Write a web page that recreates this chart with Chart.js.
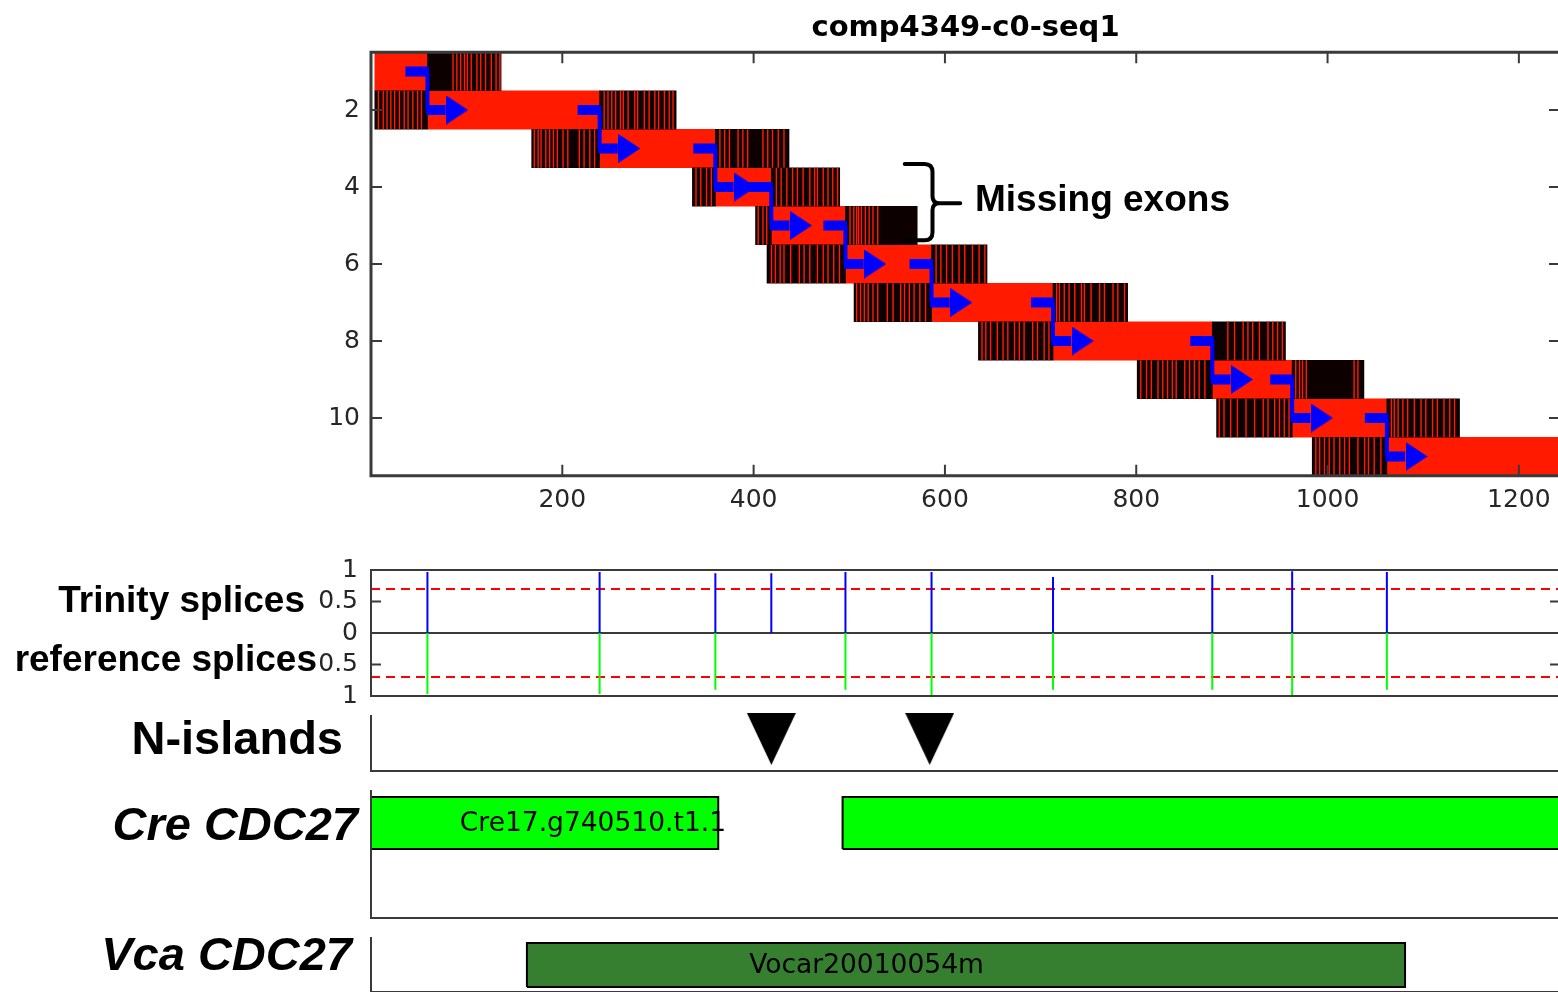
<!DOCTYPE html>
<html>
<head>
<meta charset="utf-8">
<title>comp4349-c0-seq1</title>
<script src="https://cdn.jsdelivr.net/npm/chart.js@4.4.1/dist/chart.umd.min.js"></script>
<style>
  html, body { margin: 0; padding: 0; background: #fff; }
  body { position: relative; width: 1558px; height: 992px; overflow: hidden; }
  canvas { position: absolute; left: 0; }
  .lbl { position: absolute; left: 0; font-family: "Liberation Sans", Arial, sans-serif; font-weight: bold;
         line-height: 1; white-space: nowrap; text-align: right; color: #000; }
</style>
</head>
<body>
<canvas id="exonChart" width="1560" height="530" style="top:0px"></canvas>
<canvas id="spliceChart" width="1560" height="186" style="top:540px"></canvas>
<canvas id="islandChart" width="1560" height="80" style="top:700px"></canvas>
<canvas id="creChart" width="1560" height="145" style="top:780px"></canvas>
<canvas id="vcaChart" width="1560" height="62" style="top:930px"></canvas>

<div class="lbl" style="width:305px;top:580.7px;font-size:37px">Trinity splices</div>
<div class="lbl" style="width:317px;top:639.7px;font-size:37px">reference splices</div>
<div class="lbl" style="width:343px;top:714.2px;font-size:47px">N-islands</div>
<div class="lbl" style="width:358px;top:800.2px;font-size:47px;font-style:italic">Cre CDC27</div>
<div class="lbl" style="width:352px;top:930.2px;font-size:47px;font-style:italic">Vca CDC27</div>
<div class="lbl" style="left:975px;top:180.4px;font-size:37px;text-align:left">Missing exons</div>

<script>
// --- data (x = position along the transcript) ---
const X_MAX = 1243;
const xTicks = [200, 400, 600, 800, 1000, 1200];
const rowTicks = [2, 4, 6, 8, 10];
const rows = [1, 2, 3, 4, 5, 6, 7, 8, 9, 10, 11];

// red = matched part of each exon, black = flanking genomic sequence
const exonStart = [4, 59, 239, 360, 418.5, 496, 586, 713, 879.5, 963, 1062];
const exonEnd = [59, 239, 360, 418.5, 496, 586, 713, 879.5, 963, 1062, 1250];
const flankStart = [null, 4, 168, 336, 402, 414, 505, 635, 801, 884, 984];
const flankEnd = [136, 319, 437, 490, 571, 644, 791, 956, 1038, 1138, null];

// thin red mismatch stripes inside the black flanks, per row
const mismatches = [
  [85, 89, 93, 97, 100, 104, 110, 114, 119, 125, 130, 134],
  [7, 12, 16, 20, 24, 29, 34, 38, 43, 48, 52, 243, 247, 251, 255, 260, 263, 268, 275, 278, 285, 290, 296, 300, 306, 311, 315],
  [170, 174, 177, 182, 186, 190, 194, 200, 205, 217, 222, 228, 233, 364, 369, 374, 383, 388, 393, 409, 414, 419, 425, 431],
  [339, 344, 350, 355, 423, 428, 434, 440, 445, 451, 458, 463, 466, 472, 477, 482, 487],
  [404, 409, 413, 500, 504, 507, 509, 512, 516, 520, 524, 529],
  [418, 422, 427, 431, 438, 447, 452, 458, 466, 472, 477, 483, 489, 590, 595, 601, 607, 614, 620, 628, 635, 641],
  [507, 511, 515, 519, 524, 529, 539, 545, 553, 557, 562, 567, 573, 579, 716, 719, 724, 729, 735, 742, 745, 752, 761, 766, 775, 780, 787],
  [638, 642, 647, 654, 660, 665, 672, 677, 682, 691, 696, 703, 708, 895, 902, 911, 916, 921, 928, 937, 942, 947, 952],
  [804, 810, 815, 822, 827, 832, 837, 841, 850, 855, 860, 865, 871, 966, 970, 973, 977, 1027, 1031],
  [886, 891, 898, 905, 914, 923, 932, 937, 944, 949, 954, 959, 1066, 1069, 1073, 1078, 1083, 1090, 1097, 1102, 1109, 1114, 1121, 1127, 1132],
  [987, 991, 996, 1001, 1006, 1012, 1017, 1022, 1031, 1038, 1042, 1048, 1055]
];

const trinitySplices = [59, 239, 360, 418.5, 496, 586, 713, 879.5, 963, 1062];
const trinityScore = [0.97, 0.97, 0.95, 0.95, 0.97, 0.97, 0.89, 0.92, 0.98, 0.97];
const refSplices = [59, 239, 360, 496, 586, 713, 879.5, 963, 1062];
const refScore = [0.97, 0.97, 0.9, 0.9, 1.0, 0.9, 0.9, 1.0, 0.9];
const spliceCutoff = 0.7;
const spliceTicks = [-1, -0.5, 0, 0.5, 1];

const nIslands = [418.5, 584];

const creStart = [0, 493];
const creEnd = [363, 1300];
const creName = 'Cre17.g740510.t1.1';
const creNameAt = 232;
const vcaStart = [163];
const vcaEnd = [1081];
const vcaName = 'Vocar20010054m';
const vcaNameAt = 518;

// brace next to the two missing exons (x, row)
const braceX = [558, 587, 616];
const braceRow = [3.4, 4.42, 5.38];

// --- styling ---
const RED = '#ff1a00', BLACK = '#0c0000', BLUE = '#0000ff', GREEN = '#00ff00', DARKGREEN = '#367f31';
const AXIS = '#3a3a3a', TEXT = '#262626';
const TICK_FONT = { family: 'DejaVu Sans', size: 25 };

Chart.defaults.font.family = 'DejaVu Sans';
Chart.defaults.animation = false;
Chart.defaults.events = [];
Chart.defaults.plugins.legend.display = false;
Chart.defaults.plugins.tooltip.enabled = false;

function triangle(w, h, dir, color) {
  const c = document.createElement('canvas');
  c.width = w; c.height = h;
  const g = c.getContext('2d');
  g.fillStyle = color;
  g.beginPath();
  if (dir === 'right') { g.moveTo(0, 0); g.lineTo(w, h / 2); g.lineTo(0, h); }
  else { g.moveTo(0, 0); g.lineTo(w, 0); g.lineTo(w / 2, h); }
  g.closePath(); g.fill();
  return c;
}

// axes box with inward tick marks (matlab look) plus optional extra drawing
function makeFrame(o, extra) {
  return {
    id: 'frame',
    afterDatasetsDraw(chart) {
      const { ctx, chartArea: a } = chart;
      const sx = chart.scales.x, sy = chart.scales.y;
      ctx.save();
      ctx.strokeStyle = AXIS;
      ctx.lineWidth = o.width;
      ctx.lineCap = 'square';
      ctx.beginPath();
      if (o.sides.includes('top')) { ctx.moveTo(a.left, a.top); ctx.lineTo(a.right, a.top); }
      if (o.sides.includes('bottom')) { ctx.moveTo(a.left, a.bottom); ctx.lineTo(a.right, a.bottom); }
      if (o.sides.includes('left')) { ctx.moveTo(a.left, a.top); ctx.lineTo(a.left, a.bottom); }
      if (o.sides.includes('right')) { ctx.moveTo(a.right, a.top); ctx.lineTo(a.right, a.bottom); }
      ctx.stroke();
      if (o.tickLen) {
        ctx.lineWidth = 2;
        ctx.lineCap = 'butt';
        ctx.beginPath();
        if (o.xTicks) sx.ticks.forEach(t => {
          const p = sx.getPixelForValue(t.value);
          ctx.moveTo(p, a.bottom); ctx.lineTo(p, a.bottom - o.tickLen);
          ctx.moveTo(p, a.top); ctx.lineTo(p, a.top + o.tickLen);
        });
        if (o.yTicks) sy.ticks.forEach(t => {
          const p = sy.getPixelForValue(t.value);
          ctx.moveTo(a.left, p); ctx.lineTo(a.left + o.tickLen, p);
          ctx.moveTo(a.right, p); ctx.lineTo(a.right - o.tickLen, p);
        });
        ctx.stroke();
      }
      if (extra) extra(chart, ctx);
      ctx.restore();
    }
  };
}

function xScale(show) {
  return {
    type: 'linear', min: 0, max: X_MAX, offset: false, display: show,
    grid: { display: false, drawTicks: false, offset: false }, border: { display: false },
    afterBuildTicks: s => { s.ticks = xTicks.map(v => ({ value: v })); },
    afterFit: s => {
      s.paddingLeft = 0; s.paddingRight = 0;
      if (show) s.height = 54.25;
    },
    ticks: { font: TICK_FONT, color: TEXT, padding: 10, maxRotation: 0, autoSkip: false, callback: v => String(v) }
  };
}

// --- 1. exon alignment panel ---
const redBars = rows.map((r, i) => ({ y: r, x: [exonStart[i], exonEnd[i]] }));
const blackBars = [];
rows.forEach((r, i) => {
  if (flankStart[i] !== null) blackBars.push({ y: r, x: [flankStart[i], exonStart[i]] });
  if (flankEnd[i] !== null) blackBars.push({ y: r, x: [exonEnd[i], flankEnd[i]] });
});
const stripeBars = [];
mismatches.forEach((list, i) => list.forEach(p => stripeBars.push({ y: rows[i], x: [p, p + 1.5] })));

// blue step arrows: exon k -> exon k+1 at each junction
const hSteps = [], vSteps = [], heads = [];
exonEnd.slice(0, -1).forEach((s, k) => {
  const from = rows[k], to = rows[k + 1];
  hSteps.push({ x: s - 23, y: from }, { x: s + 1.5, y: from }, { x: s, y: null });
  hSteps.push({ x: s - 1.5, y: to }, { x: s + 19, y: to }, { x: s, y: null });
  vSteps.push({ x: s, y: from }, { x: s, y: to }, { x: s, y: null });
  heads.push({ x: s + 31, y: to });
});

const barStyle = { type: 'bar', indexAxis: 'y', grouped: false, borderWidth: 0, categoryPercentage: 1, barPercentage: 1 };
const lineStyle = { type: 'scatter', showLine: true, pointRadius: 0, borderCapStyle: 'butt', fill: false };

new Chart(document.getElementById('exonChart'), {
  type: 'scatter',
  data: {
    datasets: [
      { type: 'scatter', data: heads, pointStyle: triangle(22, 29, 'right', BLUE), pointRadius: 0.5 },
      { ...lineStyle, data: hSteps, borderColor: BLUE, borderWidth: 10 },
      { ...lineStyle, data: vSteps, borderColor: BLUE, borderWidth: 4 },
      { ...barStyle, data: stripeBars, backgroundColor: RED, inflateAmount: 0 },
      { ...barStyle, data: blackBars, backgroundColor: BLACK },
      { ...barStyle, data: redBars, backgroundColor: RED }
    ]
  },
  options: {
    responsive: false, devicePixelRatio: 1,
    layout: { padding: 0, autoPadding: false },
    plugins: {
      title: {
        display: true, text: 'comp4349-c0-seq1', fullSize: false, color: '#000',
        font: { family: 'DejaVu Sans', size: 29, weight: 'bold', lineHeight: 1.2 },
        padding: { top: 11, bottom: 6.45 }
      }
    },
    scales: {
      x: xScale(true),
      y: {
        type: 'linear', min: 0.5, max: 11.5, reverse: true, offset: false, beginAtZero: false,
        grid: { display: false, drawTicks: false, offset: false }, border: { display: false },
        afterBuildTicks: s => { s.ticks = rowTicks.map(v => ({ value: v })); },
        afterFit: s => { s.width = 371; },
        ticks: { font: TICK_FONT, color: TEXT, padding: 11, autoSkip: false, callback: v => String(v) }
      }
    }
  },
  plugins: [makeFrame({ sides: ['top', 'bottom', 'left', 'right'], width: 3, tickLen: 11, xTicks: true, yTicks: true },
    (chart, ctx) => {
      const sx = chart.scales.x, sy = chart.scales.y;
      const x0 = sx.getPixelForValue(braceX[0]), x1 = sx.getPixelForValue(braceX[1]), xt = sx.getPixelForValue(braceX[2]);
      const y0 = sy.getPixelForValue(braceRow[0]), ym = sy.getPixelForValue(braceRow[1]), y1 = sy.getPixelForValue(braceRow[2]);
      ctx.strokeStyle = '#000'; ctx.lineWidth = 4; ctx.lineCap = 'round'; ctx.lineJoin = 'round';
      ctx.beginPath();
      ctx.moveTo(x0, y0); ctx.lineTo(x1 - 8, y0); ctx.quadraticCurveTo(x1, y0, x1, y0 + 8);
      ctx.lineTo(x1, ym - 7); ctx.quadraticCurveTo(x1, ym, x1 + 7, ym); ctx.lineTo(xt, ym);
      ctx.moveTo(x1 + 7, ym); ctx.quadraticCurveTo(x1, ym, x1, ym + 7);
      ctx.lineTo(x1, y1 - 8); ctx.quadraticCurveTo(x1, y1, x1 - 8, y1); ctx.lineTo(x0, y1);
      ctx.stroke();
    })]
});

// --- 2. splice support panel ---
const trinityLines = [], refLines = [];
trinitySplices.forEach((s, i) => trinityLines.push({ x: s, y: 0 }, { x: s, y: trinityScore[i] }, { x: s, y: null }));
refSplices.forEach((s, i) => refLines.push({ x: s, y: 0 }, { x: s, y: -refScore[i] }, { x: s, y: null }));
const cutoffLines = [
  { x: 0, y: spliceCutoff }, { x: X_MAX, y: spliceCutoff }, { x: 0, y: null },
  { x: 0, y: -spliceCutoff }, { x: X_MAX, y: -spliceCutoff }
];

new Chart(document.getElementById('spliceChart'), {
  type: 'scatter',
  data: {
    datasets: [
      { ...lineStyle, data: trinityLines, borderColor: BLUE, borderWidth: 2 },
      { ...lineStyle, data: refLines, borderColor: GREEN, borderWidth: 2 },
      { ...lineStyle, data: cutoffLines, borderColor: '#ff0000', borderWidth: 2, borderDash: [9, 6] }
    ]
  },
  options: {
    responsive: false, devicePixelRatio: 1,
    layout: { padding: { top: 30, bottom: 30, left: 0, right: 0 }, autoPadding: false },
    scales: {
      x: xScale(false),
      y: {
        type: 'linear', min: -1, max: 1, offset: false,
        grid: { display: true, drawTicks: false, lineWidth: 2, color: c => (c.tick && c.tick.value === 0 ? AXIS : 'rgba(0,0,0,0)') },
        border: { display: false },
        afterBuildTicks: s => { s.ticks = spliceTicks.map(v => ({ value: v })); },
        afterFit: s => { s.width = 371; },
        ticks: { font: TICK_FONT, color: TEXT, padding: 13, autoSkip: false, callback: v => String(Math.abs(v)) }
      }
    }
  },
  plugins: [makeFrame({ sides: ['top', 'bottom', 'left', 'right'], width: 2, tickLen: 10, yTicks: true })]
});

// --- 3. N-islands ---
const plainY = { type: 'linear', min: 0, max: 1, display: false };

new Chart(document.getElementById('islandChart'), {
  type: 'scatter',
  data: {
    datasets: [
      { data: nIslands.map(x => ({ x, y: 0.584 })), pointStyle: triangle(49, 52, 'down', '#000'), pointRadius: 0.5, clip: false }
    ]
  },
  options: {
    responsive: false, devicePixelRatio: 1,
    layout: { padding: { top: 16, bottom: 9, left: 371, right: 0 }, autoPadding: false },
    scales: { x: xScale(false), y: plainY }
  },
  plugins: [makeFrame({ sides: ['left', 'bottom'], width: 2 })]
});

// --- 4/5. gene models ---
function boxes(starts, ends, lo, hi, color) {
  return starts.map((a, i) => ({
    ...lineStyle, fill: 'shape', backgroundColor: color, borderColor: '#000', borderWidth: 2,
    data: [{ x: a, y: lo }, { x: ends[i], y: lo }, { x: ends[i], y: hi }, { x: a, y: hi }, { x: a, y: lo }]
  }));
}
function geneLabel(text, at, mid) {
  return (chart, ctx) => {
    ctx.fillStyle = '#000';
    ctx.font = '26.5px "DejaVu Sans"';
    ctx.textAlign = 'center';
    ctx.textBaseline = 'middle';
    ctx.fillText(text, chart.scales.x.getPixelForValue(at), chart.scales.y.getPixelForValue(mid) + 1);
  };
}

new Chart(document.getElementById('creChart'), {
  type: 'scatter',
  data: { datasets: boxes(creStart, creEnd, 0.543, 0.953, GREEN) },
  options: {
    responsive: false, devicePixelRatio: 1,
    layout: { padding: { top: 11, bottom: 7, left: 371, right: 0 }, autoPadding: false },
    scales: { x: xScale(false), y: plainY }
  },
  plugins: [makeFrame({ sides: ['left', 'bottom'], width: 2 }, geneLabel(creName, creNameAt, 0.748))]
});

new Chart(document.getElementById('vcaChart'), {
  type: 'scatter',
  data: { datasets: boxes(vcaStart, vcaEnd, 0.093, 0.907, DARKGREEN) },
  options: {
    responsive: false, devicePixelRatio: 1,
    layout: { padding: { top: 8, bottom: 0, left: 371, right: 0 }, autoPadding: false },
    scales: { x: xScale(false), y: plainY }
  },
  plugins: [makeFrame({ sides: ['left', 'bottom'], width: 2 }, geneLabel(vcaName, vcaNameAt, 0.5))]
});
</script>
</body>
</html>
